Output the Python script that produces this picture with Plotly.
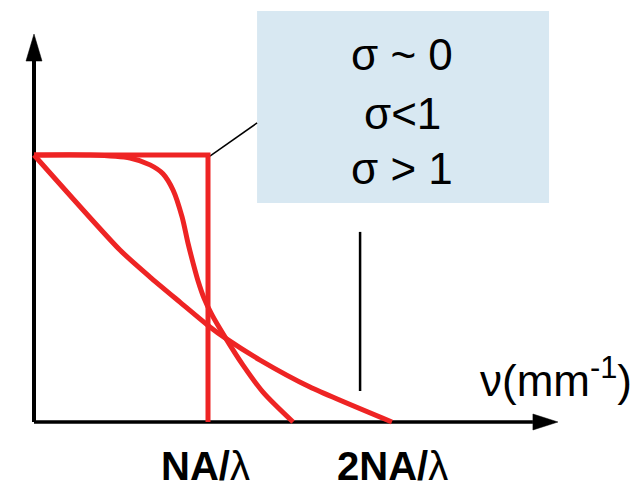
import plotly.graph_objects as go

# ---- data (x in units of NA/lambda, y = MTF) ----
step_x = [0.0, 1.0, 1.0]
step_y = [1.0, 1.0, 0.0]

sig_lt1_x = [0.0, 0.322, 0.552, 0.667, 0.741, 0.799, 0.851, 0.885, 0.914, 0.943, 0.977, 1.023, 1.098, 1.201, 1.316, 1.489]
sig_lt1_y = [1.0, 1.0, 0.989, 0.963, 0.930, 0.869, 0.768, 0.670, 0.596, 0.528, 0.464, 0.401, 0.318, 0.213, 0.112, 0.0]

sig_gt1_x = [0.0, 0.494, 0.667, 0.839, 1.011, 1.098, 1.299, 1.586, 2.057]
sig_gt1_y = [1.0, 0.644, 0.543, 0.449, 0.356, 0.315, 0.232, 0.131, 0.0]

legend_labels = ["σ ~ 0", "σ<1", "σ > 1"]
legend_y = [1.375, 1.157, 0.951]
legend_x = 2.115

tick_labels = ["<b>NA/</b>λ", "<b>2NA/</b>λ"]
tick_x = [0.985, 2.06]
tick_y = -0.255

axis_x_end = 3.011
axis_y_end = 1.453

RED = "#ee2424"
BLACK = "#000000"

x_range = [-34 / 174, (636 - 34) / 174]
y_range = [-69 / 267, 422 / 267]
px_x = 174.0
px_y = 267.0

fig = go.Figure()

# axes with arrowheads
head_len_x = 25 / px_x
head_half_w_y = 8 / px_y
head_len_y = 27 / px_y
head_half_w_x = 8 / px_x

fig.add_trace(go.Scatter(x=[0, axis_x_end - head_len_x], y=[0, 0], mode="lines",
                         line=dict(color=BLACK, width=3.5), hoverinfo="skip"))
fig.add_trace(go.Scatter(x=[0, 0], y=[0, axis_y_end - head_len_y], mode="lines",
                         line=dict(color=BLACK, width=4), hoverinfo="skip"))
fig.add_trace(go.Scatter(
    x=[axis_x_end, axis_x_end - head_len_x, axis_x_end - head_len_x, axis_x_end],
    y=[0, head_half_w_y, -head_half_w_y, 0], mode="lines", fill="toself",
    fillcolor=BLACK, line=dict(color=BLACK, width=0.5), hoverinfo="skip"))
fig.add_trace(go.Scatter(
    x=[0, -head_half_w_x, head_half_w_x, 0],
    y=[axis_y_end, axis_y_end - head_len_y, axis_y_end - head_len_y, axis_y_end],
    mode="lines", fill="toself", fillcolor=BLACK,
    line=dict(color=BLACK, width=0.5), hoverinfo="skip"))

# legend box
box_x = [1.282, 2.960]
box_y = [0.820, 1.539]
fig.add_shape(type="rect", x0=box_x[0], x1=box_x[1], y0=box_y[0], y1=box_y[1],
              xref="x", yref="y", fillcolor="#d8e8f2", line=dict(width=0), layer="below")

# connector line and vertical black line
conn_x = [1.011, 1.282]
conn_y = [0.996, 1.120]
fig.add_trace(go.Scatter(x=conn_x, y=conn_y, mode="lines",
                         line=dict(color=BLACK, width=1.5), hoverinfo="skip"))
vline_x = [1.874, 1.874]
vline_y = [0.116, 0.712]
fig.add_trace(go.Scatter(x=vline_x, y=vline_y, mode="lines",
                         line=dict(color=BLACK, width=2.5), hoverinfo="skip"))

# curves
fig.add_trace(go.Scatter(x=sig_gt1_x, y=sig_gt1_y, mode="lines",
                         line=dict(color=RED, width=5, shape="spline", smoothing=0.6)))
fig.add_trace(go.Scatter(x=sig_lt1_x, y=sig_lt1_y, mode="lines",
                         line=dict(color=RED, width=5, shape="spline", smoothing=0.8)))
fig.add_trace(go.Scatter(x=step_x, y=step_y, mode="lines",
                         line=dict(color=RED, width=5)))

font_family = "Liberation Sans, Arial, sans-serif"
for lab, ly in zip(legend_labels, legend_y):
    fig.add_annotation(x=legend_x, y=ly, text=lab, showarrow=False,
                       font=dict(family=font_family, size=44, color=BLACK),
                       xanchor="center", yanchor="middle")

for lab, tx in zip(tick_labels, tick_x):
    fig.add_annotation(x=tx, y=tick_y, text=lab, showarrow=False,
                       font=dict(family=font_family, size=40, color=BLACK),
                       xanchor="center", yanchor="bottom")

fig.add_annotation(x=3.0, y=0.165, text="ν(mm<sup>-1</sup>)", showarrow=False,
                   font=dict(family=font_family, size=44, color=BLACK),
                   xanchor="center", yanchor="middle")

fig.update_layout(
    width=636, height=491, margin=dict(l=0, r=0, t=0, b=0),
    paper_bgcolor="white", plot_bgcolor="white", showlegend=False,
    xaxis=dict(range=x_range, visible=False, fixedrange=True),
    yaxis=dict(range=y_range, visible=False, fixedrange=True),
)

fig.write_html("out.html")
